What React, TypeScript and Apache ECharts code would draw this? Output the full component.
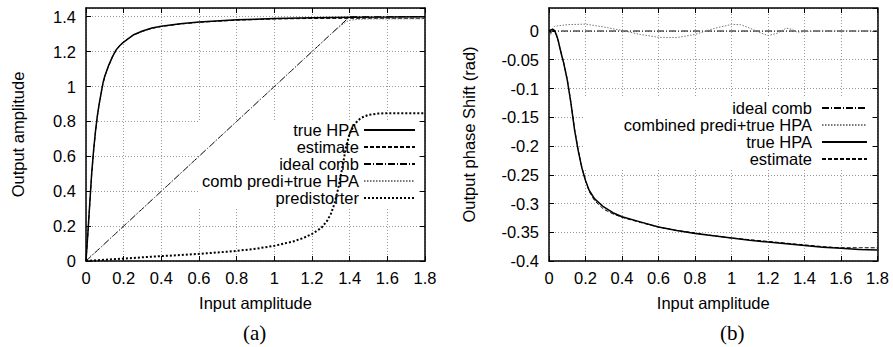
import React, { useEffect, useRef } from "react";
import * as echarts from "echarts";

// ---------- data ----------
const xTickLabels = ["0", "0.2", "0.4", "0.6", "0.8", "1", "1.2", "1.4", "1.6", "1.8"];

// (a) amplitude
const ampTrueHPA: [number, number][] = [
  [0, 0], [0.005, 0.08], [0.01, 0.16], [0.02, 0.33], [0.03, 0.5], [0.04, 0.63], [0.05, 0.74],
  [0.06, 0.83], [0.07, 0.9], [0.08, 0.96], [0.09, 1.02], [0.1, 1.06], [0.12, 1.12], [0.14, 1.17],
  [0.16, 1.21], [0.18, 1.235], [0.2, 1.255], [0.25, 1.295], [0.3, 1.318], [0.35, 1.335],
  [0.4, 1.346], [0.5, 1.36], [0.6, 1.37], [0.8, 1.382], [1.0, 1.39], [1.2, 1.394], [1.4, 1.397],
  [1.6, 1.398], [1.8, 1.4],
];
const ampEstimate: [number, number][] = [
  [0, 0], [0.005, 0.075], [0.01, 0.155], [0.02, 0.325], [0.03, 0.49], [0.04, 0.625], [0.05, 0.735],
  [0.06, 0.825], [0.07, 0.895], [0.08, 0.958], [0.09, 1.015], [0.1, 1.058], [0.12, 1.118], [0.14, 1.168],
  [0.16, 1.208], [0.18, 1.236], [0.2, 1.256], [0.25, 1.294], [0.3, 1.316], [0.35, 1.333],
  [0.4, 1.344], [0.5, 1.358], [0.6, 1.368], [0.8, 1.38], [1.0, 1.387], [1.2, 1.39], [1.4, 1.391],
  [1.6, 1.391], [1.8, 1.391],
];
const ampIdealComb: [number, number][] = [[0, 0], [1.4, 1.4], [1.8, 1.4]];
const ampCombPredi: [number, number][] = [
  [0, 0], [0.02, 0.025], [0.05, 0.05], [0.1, 0.1], [0.2, 0.2], [0.4, 0.4], [0.6, 0.6], [0.8, 0.8],
  [1.0, 1.0], [1.2, 1.2], [1.3, 1.3], [1.35, 1.345], [1.38, 1.37], [1.4, 1.38], [1.45, 1.385],
  [1.5, 1.387], [1.8, 1.388],
];
const ampPredistorter: [number, number][] = [
  [0, 0], [0.1, 0.007], [0.2, 0.014], [0.3, 0.021], [0.4, 0.028], [0.5, 0.034], [0.6, 0.041],
  [0.7, 0.049], [0.8, 0.058], [0.9, 0.07], [1.0, 0.087], [1.1, 0.112], [1.15, 0.13], [1.2, 0.155],
  [1.25, 0.19], [1.28, 0.23], [1.3, 0.27], [1.32, 0.33], [1.34, 0.42], [1.36, 0.53], [1.38, 0.65],
  [1.4, 0.73], [1.43, 0.79], [1.46, 0.82], [1.5, 0.838], [1.55, 0.845], [1.6, 0.847], [1.8, 0.847],
];

// (b) phase
const phIdealComb: [number, number][] = [[0, 0], [1.8, 0]];
const phCombPredi: [number, number][] = [
  [0, 0], [0.01, -0.006], [0.02, 0.004], [0.03, 0.008], [0.05, 0.009], [0.1, 0.011], [0.2, 0.012],
  [0.3, 0.007], [0.4, 0.001], [0.5, -0.006], [0.6, -0.011], [0.7, -0.0115], [0.8, -0.006],
  [0.9, 0.004], [1.0, 0.0115], [1.05, 0.011], [1.1, 0.005], [1.15, -0.002], [1.2, -0.008],
  [1.25, -0.004], [1.3, 0.005], [1.33, 0.003], [1.36, -0.002], [1.4, -0.001], [1.5, 0], [1.8, 0],
];
const phTrueHPA: [number, number][] = [
  [0, 0], [0.01, 0.002], [0.02, 0.003], [0.03, 0.001], [0.04, -0.006], [0.05, -0.016], [0.06, -0.03],
  [0.07, -0.043], [0.08, -0.055], [0.09, -0.07], [0.1, -0.085], [0.12, -0.125], [0.14, -0.172],
  [0.16, -0.208], [0.18, -0.238], [0.2, -0.26], [0.22, -0.277], [0.25, -0.292], [0.3, -0.306],
  [0.35, -0.316], [0.4, -0.323], [0.5, -0.332], [0.6, -0.341], [0.7, -0.347], [0.8, -0.352],
  [0.9, -0.356], [1.0, -0.36], [1.1, -0.364], [1.2, -0.367], [1.3, -0.37], [1.4, -0.373],
  [1.5, -0.376], [1.6, -0.378], [1.7, -0.38], [1.8, -0.381],
];
const phEstimate: [number, number][] = [
  [0, 0], [0.01, -0.004], [0.02, 0.002], [0.03, 0.0], [0.04, -0.007], [0.05, -0.017], [0.06, -0.03],
  [0.07, -0.042], [0.08, -0.054], [0.09, -0.069], [0.1, -0.084], [0.12, -0.124], [0.14, -0.17],
  [0.16, -0.207], [0.18, -0.237], [0.2, -0.26], [0.22, -0.279], [0.25, -0.295], [0.3, -0.31],
  [0.35, -0.318], [0.4, -0.324], [0.5, -0.333], [0.6, -0.341], [0.7, -0.347], [0.8, -0.351],
  [0.9, -0.356], [1.0, -0.36], [1.1, -0.363], [1.2, -0.366], [1.3, -0.369], [1.4, -0.372],
  [1.5, -0.375], [1.6, -0.377], [1.7, -0.377], [1.8, -0.377],
];

const legendA = ["true HPA", "estimate", "ideal comb", "comb predi+true HPA", "predistorter"];
const legendB = ["ideal comb", "combined predi+true HPA", "true HPA", "estimate"];

// ---------- styles ----------
const FONT = "Liberation Sans, Arial, Helvetica, sans-serif";
const FS = 16.5;
const SOLID = { color: "#000", width: 1.5, type: "solid" as any };
const DASHED = { color: "#000", width: 1, type: [4, 2] as any };
const DASHDOT = { color: "#000", width: 1, type: [7, 2, 1, 2] as any };
const GRAYDOT = { color: "#777", width: 1, type: [1.5, 1.5] as any };
const BOLDDOT = { color: "#000", width: 2, type: [2, 2] as any };

function line(name: string, data: [number, number][], style: any, idx: number) {
  return {
    name,
    type: "line",
    xAxisIndex: idx,
    yAxisIndex: idx,
    data,
    symbol: "none",
    showSymbol: false,
    lineStyle: style,
    itemStyle: { color: style.color },
    color: style.color,
    clip: true,
  };
}

const tickFmt = (v: number) => String(+v.toFixed(2));

function xAxes(grid: number) {
  const common = {
    type: "value",
    gridIndex: grid,
    min: 0,
    max: 1.8,
    interval: 0.2,
    axisLine: { show: true, onZero: false, lineStyle: { color: "#000", width: 1.5 } },
    axisTick: { show: true, inside: true, length: 5, lineStyle: { color: "#000", width: 1 } },
  };
  return [
    {
      ...common,
      position: "bottom",
      axisLabel: { color: "#000", fontFamily: FONT, fontSize: FS, margin: 8, formatter: tickFmt },
      splitLine: { show: true, lineStyle: { color: "#9a9a9a", width: 1, type: [1, 2] } },
      name: "Input amplitude",
      nameLocation: "middle",
      nameGap: 33,
      nameTextStyle: { color: "#000", fontFamily: FONT, fontSize: FS },
    },
    { ...common, position: "top", axisLabel: { show: false }, splitLine: { show: false } },
  ];
}

function yAxes(grid: number, min: number, max: number, interval: number, name: string, nameGap: number) {
  const common = {
    type: "value",
    gridIndex: grid,
    min,
    max,
    interval,
    axisLine: { show: true, onZero: false, lineStyle: { color: "#000", width: 1.5 } },
    axisTick: { show: true, inside: true, length: 5, lineStyle: { color: "#000", width: 1 } },
  };
  return [
    {
      ...common,
      position: "left",
      axisLabel: {
        color: "#000",
        fontFamily: FONT,
        fontSize: FS,
        margin: 10,
        showMaxLabel: false,
        formatter: tickFmt,
      },
      splitLine: { show: true, lineStyle: { color: "#9a9a9a", width: 1, type: [1, 2] } },
      name,
      nameLocation: "middle",
      nameGap,
      nameRotate: 90,
      nameTextStyle: { color: "#000", fontFamily: FONT, fontSize: FS },
    },
    { ...common, position: "right", axisLabel: { show: false }, splitLine: { show: false } },
  ];
}

export default function App() {
  const ref = useRef<HTMLDivElement>(null);
  useEffect(() => {
    document.body.style.margin = "0";
    const chart = echarts.init(ref.current!, null, { renderer: "svg" });
    const xs = [...xAxes(0), ...xAxes(1)];
    const ys = [
      ...yAxes(0, 0, 1.45, 0.2, "Output amplitude", 60),
      ...yAxes(1, -0.4, 0.04, 0.05, "Output phase Shift (rad)", 72),
    ];
    const legendCommon = {
      orient: "vertical",
      align: "right",
      itemHeight: 10,
      itemGap: 0,
      backgroundColor: "#fff",
      selectedMode: false,
      z: 1,
      itemStyle: { opacity: 0, borderWidth: 0, color: "rgba(0,0,0,0)" },
    };
    const option: any = {
      animation: false,
      backgroundColor: "#fff",
      grid: [
        { left: 86, top: 8, width: 339, height: 253 },
        { left: 549, top: 8, width: 328.5, height: 253 },
      ],
      xAxis: xs,
      yAxis: ys,
      legend: [
        {
          ...legendCommon,
          data: legendA,
          right: 474,
          top: 120.5,
          itemWidth: 51,
          padding: [1, 3, 1, 3],
          textStyle: { color: "#000", fontFamily: FONT, fontSize: FS, lineHeight: 17 },
        },
        {
          ...legendCommon,
          data: legendB,
          right: 21,
          top: 97.5,
          itemWidth: 45,
          padding: [2, 4, 2, 40],
          textStyle: { color: "#000", fontFamily: FONT, fontSize: FS, lineHeight: 17, padding: [0, 5, 0, 0] },
        },
      ],
      series: [
        line("true HPA", ampTrueHPA, SOLID, 0),
        line("estimate", ampEstimate, DASHED, 0),
        line("ideal comb", ampIdealComb, DASHDOT, 0),
        line("comb predi+true HPA", ampCombPredi, GRAYDOT, 0),
        line("predistorter", ampPredistorter, BOLDDOT, 0),
        line("ideal comb", phIdealComb, DASHDOT, 2),
        line("combined predi+true HPA", phCombPredi, GRAYDOT, 2),
        line("true HPA", phTrueHPA, SOLID, 2),
        line("estimate", phEstimate, DASHED, 2),
      ],
      graphic: [
        {
          type: "text",
          left: 243,
          top: 322,
          style: { text: "(a)", font: "21px 'Liberation Serif', 'DejaVu Serif', serif", fill: "#000" },
        },
        {
          type: "text",
          left: 720,
          top: 322,
          style: { text: "(b)", font: "21px 'Liberation Serif', 'DejaVu Serif', serif", fill: "#000" },
        },
      ],
    };
    chart.setOption(option);
    return () => chart.dispose();
  }, []);
  return (
    <div
      ref={ref}
      style={{ position: "absolute", left: 0, top: 0, width: 893, height: 347, background: "#fff" }}
    />
  );
}
